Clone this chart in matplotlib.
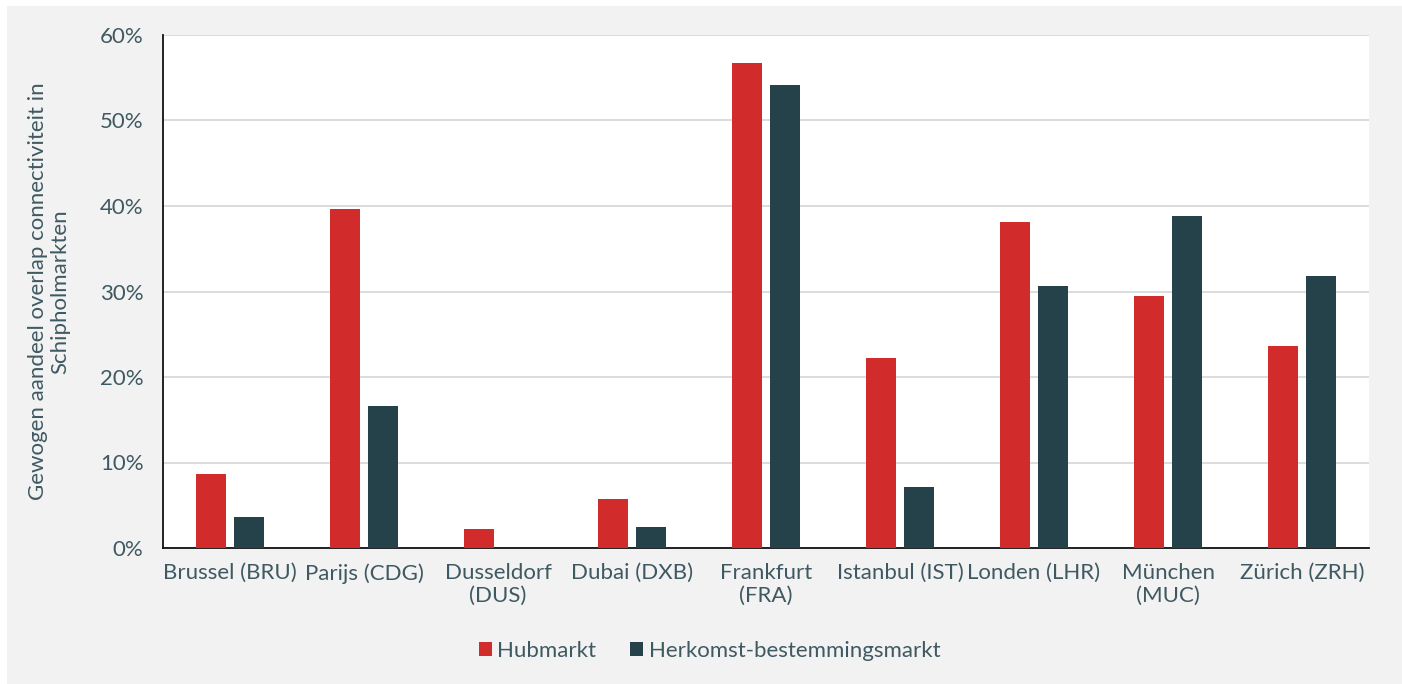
import matplotlib.pyplot as plt
import matplotlib
import numpy as np
from matplotlib.patches import Rectangle
from matplotlib.ticker import FuncFormatter

matplotlib.rcParams['font.family'] = ['Lato', 'DejaVu Sans']
matplotlib.rcParams['font.size'] = 16

# data (percent)
luchthavens = ['Brussel (BRU)', 'Parijs (CDG)', 'Dusseldorf\n(DUS)', 'Dubai (DXB)',
               'Frankfurt\n(FRA)', 'Istanbul (IST)', 'Londen (LHR)', 'München\n(MUC)',
               'Zürich (ZRH)']
hubmarkt = [8.6, 39.6, 2.2, 5.7, 56.7, 22.2, 38.1, 29.5, 23.6]
herkomst = [3.6, 16.6, 0.0, 2.5, 54.2, 7.1, 30.6, 38.8, 31.8]

rood = '#d22b2b'
donker = '#25424a'
tekst = '#3f5962'
grijs = '#f2f2f2'

fig = plt.figure(figsize=(14.02, 6.84), dpi=100, facecolor='white')
# grijs paneel met smalle witte rand links en boven
fig.patches.append(Rectangle((7/1402, 0), 1 - 7/1402, 1 - 6/684,
                             transform=fig.transFigure, facecolor=grijs,
                             edgecolor='none', zorder=-10))

ax = fig.add_axes([163/1402, 1 - 548/684, (1369-163)/1402, (548-35)/684])
ax.set_facecolor('white')

x = np.arange(len(luchthavens))
w = 0.224
ax.bar(x - 0.142, hubmarkt, w, color=rood, label='Hubmarkt', zorder=3)
ax.bar(x + 0.142, herkomst, w, color=donker, label='Herkomst-bestemmingsmarkt', zorder=3)

ax.set_xlim(-0.5, len(luchthavens) - 0.5)
ax.set_ylim(0, 60)
ax.set_yticks(np.arange(0, 61, 10))
ax.yaxis.set_major_formatter(FuncFormatter(lambda v, p: f'{v:.0f}%'))
ax.grid(axis='y', color='#d9d9d9', linewidth=1.3, zorder=0)
ax.set_xticks(x)
ax.set_xticklabels(luchthavens, color=tekst, fontsize=16, linespacing=1.15)
ax.tick_params(axis='y', colors=tekst, labelsize=16, length=0, pad=14)
ax.tick_params(axis='x', length=0, pad=11)

for s in ['top', 'right']:
    ax.spines[s].set_visible(False)
for s in ['left', 'bottom']:
    ax.spines[s].set_color('#111111')
    ax.spines[s].set_linewidth(1.3)

ax.set_ylabel('Gewogen aandeel overlap connectiviteit in\nSchipholmarkten',
              color=tekst, fontsize=16, labelpad=21, linespacing=1.15)

leg = fig.legend(loc='center', bbox_to_anchor=(0.506, 1 - 651/684), ncol=2,
                 frameon=False, fontsize=16, handlelength=0.6, handleheight=0.6,
                 handletextpad=0.25, columnspacing=1.5)
for t in leg.get_texts():
    t.set_color(tekst)

fig.savefig('out.png', dpi=100, facecolor=fig.get_facecolor())
